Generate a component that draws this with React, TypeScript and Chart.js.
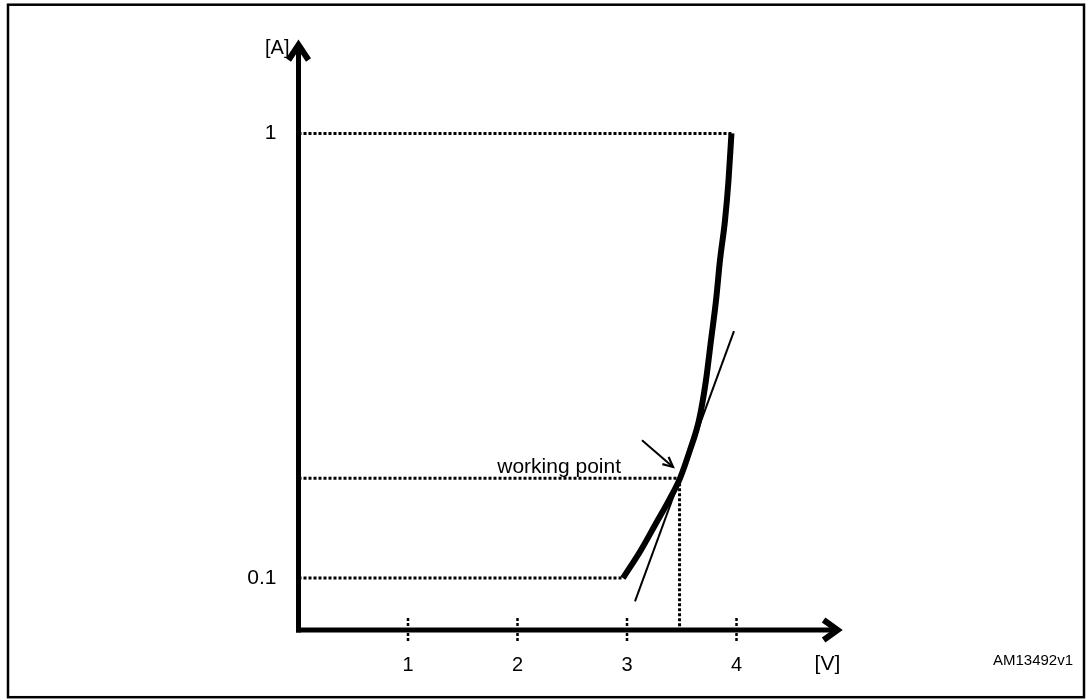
import React, { useEffect, useRef } from "react";
import { Chart, registerables } from "chart.js";

Chart.register(...registerables);

// Axis tick values and labels
const xTickValues = [1, 2, 3, 4];
const yTickValues = [0.1, 1];
const yTickLabels = ["0.1", "1"];
const xUnitLabel = "[V]";
const yUnitLabel = "[A]";
const annotationText = "working point";
const docCode = "AM13492v1";

// I-V characteristic curve (V, A)
const curveV = [2.963, 3.128, 3.265, 3.384, 3.484, 3.575, 3.658, 3.721, 3.767, 3.813, 3.849, 3.895, 3.927, 3.954];
const curveA = [0.1, 0.157, 0.211, 0.258, 0.302, 0.359, 0.42, 0.5, 0.581, 0.662, 0.743, 0.824, 0.905, 1.0];

// Tangent at the working point
const tangentV = [3.073, 3.977];
const tangentA = [0.053, 0.6];

// Working point
const workV = 3.48;
const workA = 0.302;

// Arrow for the annotation (start -> end)
const arrowV = [3.137, 3.42];
const arrowA = [0.379, 0.325];

// Unit label positions (data units)
const xUnitPos = 4.83;
const yUnitPos = 1.172;

const FONT = "'Liberation Sans', Arial, sans-serif";

export default function App() {
  const ref = useRef<HTMLCanvasElement | null>(null);

  useEffect(() => {
    if (!ref.current) return;
    const dotted = {
      borderColor: "#000",
      borderWidth: 3,
      borderDash: [3, 2],
      pointRadius: 0,
      showLine: true,
      fill: false,
    };

    const overlay = {
      id: "overlay",
      afterDraw(chart: any) {
        const ctx = chart.ctx as CanvasRenderingContext2D;
        const xs = chart.scales.x;
        const ys = chart.scales.y;
        const x0 = xs.getPixelForValue(0);
        const axisY = chart.chartArea.bottom;
        ctx.save();
        ctx.strokeStyle = "#000";
        ctx.fillStyle = "#000";
        // frame
        ctx.lineWidth = 2.5;
        ctx.strokeRect(8, 4.7, 1076, 692.5);
        // x tick marks (dotted)
        ctx.lineWidth = 2.5;
        ctx.setLineDash([3, 2]);
        xs.ticks.forEach((t: any) => {
          const px = xs.getPixelForValue(t.value);
          ctx.beginPath();
          ctx.moveTo(px, axisY - 12);
          ctx.lineTo(px, axisY + 12);
          ctx.stroke();
        });
        ctx.setLineDash([]);
        // axes
        ctx.lineWidth = 5;
        ctx.lineCap = "butt";
        const yTop = ys.getPixelForValue(1.187);
        const xRight = xs.getPixelForValue(4.96);
        ctx.beginPath();
        ctx.moveTo(x0, axisY + 2.5);
        ctx.lineTo(x0, yTop + 4);
        ctx.stroke();
        ctx.beginPath();
        ctx.moveTo(x0 - 2.5, axisY);
        ctx.lineTo(xRight - 4, axisY);
        ctx.stroke();
        // arrowheads
        ctx.lineJoin = "miter";
        ctx.lineWidth = 6;
        ctx.beginPath();
        ctx.moveTo(x0 - 10, yTop + 19);
        ctx.lineTo(x0, yTop + 4);
        ctx.lineTo(x0 + 10, yTop + 19);
        ctx.stroke();
        ctx.beginPath();
        ctx.moveTo(xRight - 18, axisY - 10);
        ctx.lineTo(xRight - 4, axisY);
        ctx.lineTo(xRight - 18, axisY + 10);
        ctx.stroke();
        // annotation arrow
        const ax1 = xs.getPixelForValue(arrowV[0]);
        const ay1 = ys.getPixelForValue(arrowA[0]);
        const ax2 = xs.getPixelForValue(arrowV[1]);
        const ay2 = ys.getPixelForValue(arrowA[1]);
        ctx.lineWidth = 2;
        ctx.beginPath();
        ctx.moveTo(ax1, ay1);
        ctx.lineTo(ax2, ay2);
        ctx.stroke();
        const ang = Math.atan2(ay2 - ay1, ax2 - ax1);
        ctx.lineWidth = 2.2;
        ctx.beginPath();
        ctx.moveTo(ax2 - 11 * Math.cos(ang - 0.45), ay2 - 11 * Math.sin(ang - 0.45));
        ctx.lineTo(ax2, ay2);
        ctx.lineTo(ax2 - 11 * Math.cos(ang + 0.45), ay2 - 11 * Math.sin(ang + 0.45));
        ctx.stroke();
        // texts
        ctx.font = `21px ${FONT}`;
        ctx.textBaseline = "middle";
        ctx.textAlign = "right";
        ctx.fillText(annotationText, ax1 - 21, ys.getPixelForValue(workA) - 11);
        ctx.font = `20px ${FONT}`;
        ctx.fillText(yUnitLabel, x0 - 9, ys.getPixelForValue(yUnitPos));
        ctx.textAlign = "center";
        ctx.font = `21px ${FONT}`;
        ctx.fillText(xUnitLabel, xs.getPixelForValue(xUnitPos), axisY + 34);
        ctx.font = `15px ${FONT}`;
        ctx.textAlign = "right";
        ctx.fillText(docCode, 1073, 661);
        ctx.restore();
      },
    };

    const chart = new Chart(ref.current, {
      type: "scatter",
      data: {
        datasets: [
          { ...dotted, data: [{ x: 0, y: 1 }, { x: curveV[curveV.length - 1], y: 1 }] },
          { ...dotted, data: [{ x: 0, y: 0.1 }, { x: curveV[0], y: 0.1 }] },
          { ...dotted, data: [{ x: 0, y: workA }, { x: workV, y: workA }] },
          { ...dotted, data: [{ x: workV, y: workA }, { x: workV, y: 0 }] },
          {
            data: tangentV.map((v, i) => ({ x: v, y: tangentA[i] })),
            borderColor: "#000",
            borderWidth: 2,
            pointRadius: 0,
            showLine: true,
          },
          {
            data: curveV.map((v, i) => ({ x: v, y: curveA[i] })),
            borderColor: "#000",
            borderWidth: 6,
            pointRadius: 0,
            showLine: true,
            cubicInterpolationMode: "monotone",
            borderCapStyle: "butt",
            borderJoinStyle: "round",
          } as any,
        ],
      },
      options: {
        animation: false,
        responsive: false,
        devicePixelRatio: 1,
        layout: { padding: { top: 34, right: 242, left: 0, bottom: 0 } },
        plugins: { legend: { display: false }, tooltip: { enabled: false } },
        scales: {
          x: {
            type: "linear",
            min: 0,
            max: 5,
            grid: { display: false, drawTicks: false },
            border: { display: false },
            afterFit: (s: any) => {
              s.height = 69;
            },
            afterBuildTicks: (s: any) => {
              s.ticks = xTickValues.map((v) => ({ value: v }));
            },
            ticks: {
              padding: 23,
              color: "#000",
              font: { family: FONT, size: 20 },
              callback: (v: any) => String(v),
            },
          },
          y: {
            type: "linear",
            min: -0.005,
            max: 1.2,
            grid: { display: false, drawTicks: false },
            border: { display: false },
            afterFit: (s: any) => {
              s.width = 298.5;
            },
            afterBuildTicks: (s: any) => {
              s.ticks = yTickValues.map((v) => ({ value: v }));
            },
            ticks: {
              padding: 22,
              color: "#000",
              font: { family: FONT, size: 21 },
              callback: (v: any) => {
                const i = yTickValues.indexOf(Number(v));
                return i >= 0 ? yTickLabels[i] : "";
              },
            },
          },
        },
      },
      plugins: [overlay],
    });
    return () => chart.destroy();
  }, []);

  return (
    <div style={{ position: "fixed", left: 0, top: 0, width: 1088, height: 699, background: "#fff" }}>
      <canvas ref={ref} width={1088} height={699} style={{ width: 1088, height: 699 }} />
    </div>
  );
}
